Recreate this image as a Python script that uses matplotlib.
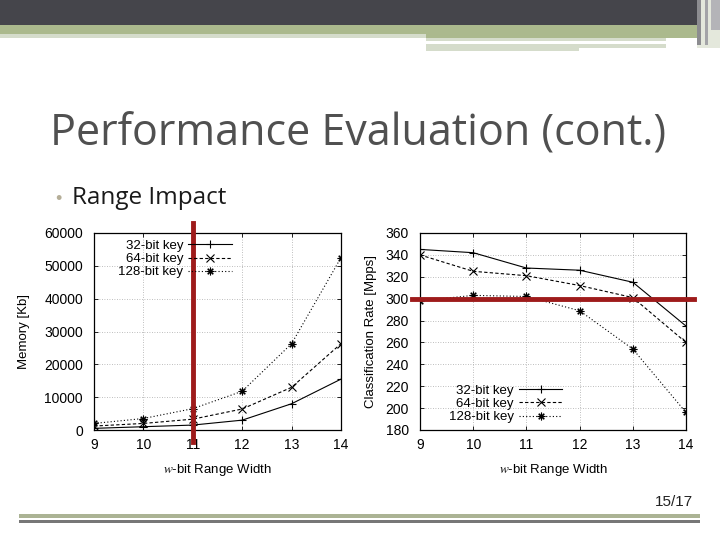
import matplotlib
matplotlib.use("Agg")
import matplotlib.pyplot as plt
from matplotlib.patches import Rectangle

# data
widths = [9, 10, 11, 12, 13, 14]
mem_32 = [500, 1000, 1500, 3000, 8000, 15500]
mem_64 = [1200, 2000, 3300, 6400, 13000, 26300]
mem_128 = [2000, 3500, 6500, 11800, 26300, 52500]
rate_32 = [345, 342, 328, 326, 315, 275]
rate_64 = [340, 325, 321, 312, 301, 260]
rate_128 = [298, 303, 302, 289, 254, 196]
labels = ["32-bit key", "64-bit key", "128-bit key"]
mem_limit_width = 11
rate_target = 300

plt.rcParams["font.family"] = ["Liberation Sans", "DejaVu Sans"]
plt.rcParams["mathtext.fontset"] = "stix"

fig = plt.figure(figsize=(7.2, 5.4), dpi=100)
W, H = 720, 540


def box(x0, y0, x1, y1, color):
    # slide decoration in pixel coords (top-left origin)
    fig.patches.append(Rectangle((x0 / W, 1 - y1 / H), (x1 - x0) / W, (y1 - y0) / H,
                                 transform=fig.transFigure, color=color, lw=0, zorder=0))


# header bars
box(0, 0, 720, 25, "#45454b")
box(0, 25, 720, 34, "#abb98d")
box(0, 34, 426, 38, "#d5dccb")
box(426, 34, 720, 38, "#abb98d")
box(426, 38, 666, 41, "#d5dccb")
box(426, 44, 579, 51, "#d5dccb")
box(579, 44, 666, 48, "#d5dccb")
box(697, 0, 720, 48, "#e4e8dc")
box(697, 0, 701, 45, "#8c8c90")
box(705, 0, 708, 45, "#a4a4a8")
box(711, 0, 720, 30, "#b4b4b8")
# footer lines
box(19, 514, 700, 518, "#abb394")
box(19, 520, 700, 523, "#777777")

fig.text(50 / W, 1 - 134 / H, "Performance Evaluation (cont.)", fontsize=31,
         family=["Open Sans", "DejaVu Sans"], color="#505050", va="center", ha="left")
fig.text(55 / W, 1 - 199 / H, "\u2022", fontsize=13, color="#b5ae98", va="center")
fig.text(72 / W, 1 - 198 / H, "Range Impact", fontsize=17.5,
         family=["Open Sans", "DejaVu Sans"], color="#1a1a1a", va="center")
fig.text(693 / W, 1 - 502 / H, "15/17", fontsize=11,
         family=["Liberation Sans Narrow", "Liberation Sans"], color="#222222",
         ha="right", va="center")

styles = [dict(ls="-", marker="+"),
          dict(ls=(0, (3, 2)), marker="x"),
          dict(ls=(0, (1, 2)), marker=(8, 2, 0))]


def style_axes(ax):
    ax.set_xlim(9, 14)
    ax.set_xticks(widths)
    ax.tick_params(direction="in", top=True, right=True, length=3, width=0.6,
                   labelsize=10, pad=6)
    ax.tick_params(axis="y", pad=8)
    ax.grid(True, ls=(0, (1, 2)), color="#a8a8a8", lw=0.6)
    for s in ax.spines.values():
        s.set_linewidth(0.9)
    ax.set_xlabel(r"$w$-bit Range Width", fontsize=9.5, labelpad=7)


ax1 = fig.add_axes([94 / W, 1 - 430 / H, 247 / W, 197 / H])
for vals, st, lab in zip([mem_32, mem_64, mem_128], styles, labels):
    ax1.plot(widths, vals, color="black", lw=0.8, ms=5.5, mew=0.8, label=lab, **st)
style_axes(ax1)
ax1.set_ylim(0, 60000)
ax1.set_yticks(range(0, 60001, 10000))
ax1.set_ylabel("Memory [Kb]", fontsize=9.5, labelpad=10)
ax1.legend(loc="upper right", bbox_to_anchor=(0.585, 1.0), frameon=False, fontsize=9.5,
           markerfirst=False, handlelength=3.3, handletextpad=0.4, labelspacing=0.08,
           borderaxespad=0.1, numpoints=1)
ax1.axvline(mem_limit_width, ymin=-0.06, ymax=1.05, color="#9e1b1b", lw=3.5, clip_on=False,
            zorder=5)

ax2 = fig.add_axes([420 / W, 1 - 430 / H, 266 / W, 197 / H])
for vals, st, lab in zip([rate_32, rate_64, rate_128], styles, labels):
    ax2.plot(widths, vals, color="black", lw=0.8, ms=5.5, mew=0.8, label=lab, **st)
style_axes(ax2)
ax2.set_ylim(180, 360)
ax2.set_yticks(range(180, 361, 20))
ax2.set_ylabel("Classification Rate [Mpps]", fontsize=9.5, labelpad=6)
ax2.legend(loc="lower right", bbox_to_anchor=(0.56, 0.0), frameon=False, fontsize=9.5,
           markerfirst=False, handlelength=3.3, handletextpad=0.4, labelspacing=0.08,
           borderaxespad=0.1, numpoints=1)
ax2.axhline(rate_target, xmin=-0.03, xmax=1.03, color="#9e1b1b", lw=3.5, clip_on=False,
            zorder=5)

fig.savefig("out.png", dpi=100)
